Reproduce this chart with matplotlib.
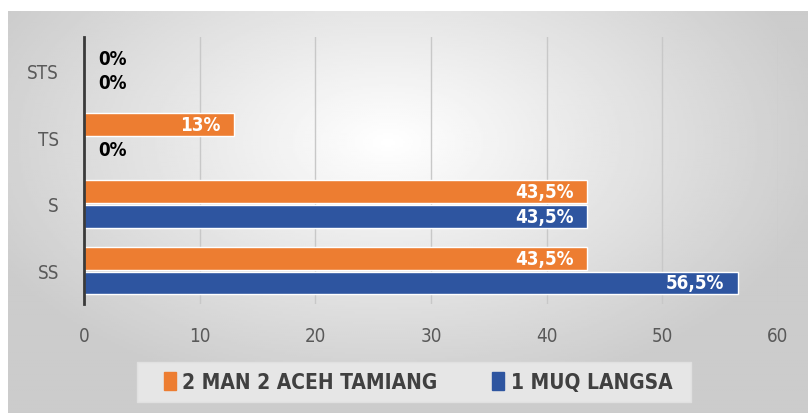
import numpy as np
import matplotlib.pyplot as plt
from matplotlib.patches import Patch, Rectangle

categories = ["SS", "S", "TS", "STS"]
man_aceh = [43.5, 43.5, 13, 0]      # 2 MAN 2 ACEH TAMIANG (orange)
muq_langsa = [56.5, 43.5, 0, 0]     # 1 MUQ LANGSA (blue)
series_names = ["2 MAN 2 ACEH TAMIANG", "1 MUQ LANGSA"]
xticks = [0, 10, 20, 30, 40, 50, 60]

orange = "#ED7D31"
blue = "#2E55A0"
font = dict(family="DejaVu Sans", stretch="condensed")

fig = plt.figure(figsize=(8.08, 4.14), dpi=100)
fig.patch.set_facecolor("white")

# gradient background
bg = fig.add_axes([8/808, 0, 1 - 8/808, (414 - 12)/414])
gx, gy = np.meshgrid(np.linspace(-1, 1, 400), np.linspace(-1, 1, 200))
r = np.sqrt(((gx + 0.05) / 1.1) ** 2 + ((gy + 0.35) / 1.3) ** 2)
bg.imshow(1 - np.clip(r, 0, 1) * 0.2, cmap="gray", vmin=0, vmax=1,
          aspect="auto", extent=[0, 1, 0, 1])
bg.axis("off")

ax = fig.add_axes([84/808, 109/414, 694/808, 267/414])
ax.set_facecolor("none")
y = np.arange(len(categories))
h = 0.34
off = 0.185
b1 = ax.barh(y + off, man_aceh, height=h, color=orange, edgecolor="white", linewidth=1, zorder=3)
b2 = ax.barh(y - off, muq_langsa, height=h, color=blue, edgecolor="white", linewidth=1, zorder=3)

for bars, vals in [(b1, man_aceh), (b2, muq_langsa)]:
    for bar, v in zip(bars, vals):
        txt = f"{v:g}".replace(".", ",") + "%"
        cy = bar.get_y() + bar.get_height() / 2
        if v > 0:
            ax.annotate(txt, (v, cy), xytext=(-10, 0), textcoords="offset points",
                        ha="right", va="center", color="white", fontsize=13.5,
                        fontweight="bold", zorder=4, **font)
        else:
            ax.annotate(txt, (0, cy), xytext=(10, 0), textcoords="offset points",
                        ha="left", va="center", color="black", fontsize=13.5,
                        fontweight="bold", zorder=4, **font)

ax.set_xlim(0, 60)
ax.set_ylim(-0.5, len(categories) - 0.5)
ax.set_xticks(xticks)
ax.set_yticks(y)
ax.set_yticklabels(categories)
for lab in ax.get_xticklabels() + ax.get_yticklabels():
    lab.set_fontfamily("DejaVu Sans")
    lab.set_fontstretch("condensed")
    lab.set_fontsize(13.5)
    lab.set_color("#595959")
ax.tick_params(axis="both", length=0)
ax.tick_params(axis="x", pad=16)
ax.tick_params(axis="y", pad=18)
ax.xaxis.grid(True, color="#c8c8c8", linewidth=1, zorder=0)
for s in ["top", "right", "bottom"]:
    ax.spines[s].set_visible(False)
ax.spines["left"].set_color("#3a3a3a")
ax.spines["left"].set_linewidth(2)
ax.spines["left"].set_zorder(5)

# legend box
fig.add_artist(Rectangle((137/808, 11/414), 554/808, 40/414, transform=fig.transFigure,
                         facecolor="#e6e6e6", edgecolor="#e0e0e0", lw=1, zorder=1))
handles = [Patch(color=orange), Patch(color=blue)]
leg = fig.legend(handles, series_names, loc="center", bbox_to_anchor=(418/808, 31/414),
                 ncol=2, frameon=False, handlelength=0.6, handleheight=1.0,
                 handletextpad=0.3, columnspacing=2.6,
                 prop=dict(family="DejaVu Sans", stretch="condensed", weight="bold", size=15))
leg.set_zorder(2)
for t in leg.get_texts():
    t.set_color("#404040")

fig.savefig("out.png", dpi=100)
